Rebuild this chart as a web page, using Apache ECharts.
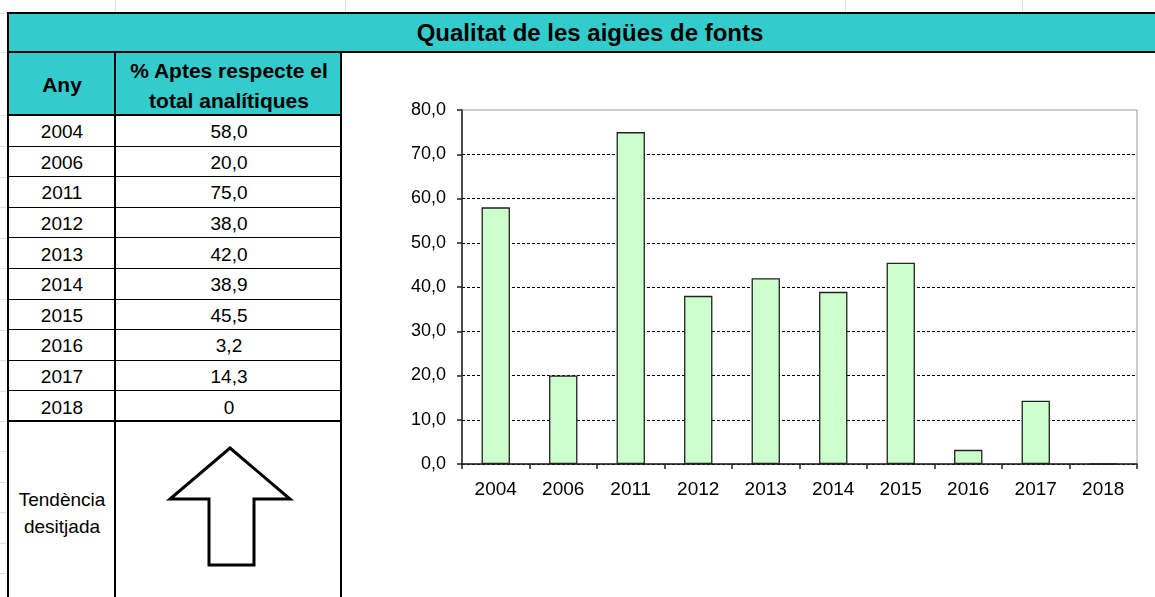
<!DOCTYPE html>
<html>
<head>
<meta charset="utf-8">
<script src="https://cdn.jsdelivr.net/npm/echarts@6/dist/echarts.min.js"></script>
<style>
body { margin: 0; width: 1155px; height: 597px; overflow: hidden; background: #fff; position: relative;
       font-family: Arial, "Liberation Sans", sans-serif; color: #000; }
.abs { position: absolute; box-sizing: border-box; }
.txt { position: absolute; display: flex; align-items: center; justify-content: center; text-align: center; font-size: 19px; }
.hd { font-weight: bold; font-size: 21px; line-height: 30px; }
.ln { position: absolute; background: #000; }
.faint { position: absolute; background: #dde1e6; }
#chart { position: absolute; left: 342px; top: 53px; width: 813px; height: 544px; }
</style>
</head>
<body>
<div id="sheet"></div>
<div id="chart"></div>
<script>
var TITLE = "Qualitat de les aigües de fonts";
var YEARS = ["2004", "2006", "2011", "2012", "2013", "2014", "2015", "2016", "2017", "2018"];
var APTES = [58.0, 20.0, 75.0, 38.0, 42.0, 38.9, 45.5, 3.2, 14.3, 0];
var Y_TICKS = [0, 10, 20, 30, 40, 50, 60, 70, 80];

function fmt(v) {
    if (v == 0) return "0";
    return v.toFixed(1).replace(".", ",");
}

function build_sheet() {
    var html = "";
    // faint spreadsheet gridlines outside the table
    var fx = [115, 345, 845, 1022];
    for (var i = 0; i < fx.length; i++) html += "<div class='faint' style='left:" + fx[i] + "px;top:0;width:1px;height:12px'></div>";
    var fy = [13, 52, 115, 146, 177, 207, 238, 268, 299, 330, 360, 391, 421, 451, 482, 512, 543, 573];
    for (i = 0; i < fy.length; i++) html += "<div class='faint' style='left:0;top:" + fy[i] + "px;width:7px;height:1px'></div>";

    // title band
    html += "<div class='abs' style='left:8px;top:13px;width:1150px;height:40px;background:#33CCCC'></div>";
    html += "<div class='txt' style='left:8px;top:13px;width:1164px;height:40px;font-weight:bold;font-size:24px'>" + TITLE + "</div>";
    // header
    html += "<div class='abs' style='left:8px;top:52px;width:334px;height:63px;background:#33CCCC'></div>";
    html += "<div class='txt hd' style='left:9px;top:53px;width:106px;height:63px'>Any</div>";
    html += "<div class='txt hd' style='left:116px;top:54px;width:226px;height:63px'>% Aptes respecte el<br>total analítiques</div>";

    // rows
    var top = 115, rh = 30.6;
    for (i = 0; i < YEARS.length; i++) {
        var y = top + i * rh;
        html += "<div class='txt' style='left:9px;top:" + (y + 2) + "px;width:106px;height:" + rh + "px'>" + YEARS[i] + "</div>";
        html += "<div class='txt' style='left:116px;top:" + (y + 2) + "px;width:226px;height:" + rh + "px'>" + fmt(APTES[i]) + "</div>";
        if (i > 0) html += "<div class='ln' style='left:8px;top:" + Math.round(y) + "px;width:334px;height:1px'></div>";
    }
    var yEnd = Math.round(top + YEARS.length * rh);
    html += "<div class='txt' style='left:9px;top:" + (yEnd + 64) + "px;width:106px;height:56px;line-height:27px'>Tendència<br>desitjada</div>";

    // heavy borders
    html += "<div class='ln' style='left:8px;top:12px;width:1150px;height:2px'></div>";
    html += "<div class='ln' style='left:8px;top:51px;width:1150px;height:2px'></div>";
    html += "<div class='ln' style='left:8px;top:114px;width:334px;height:2px'></div>";
    html += "<div class='ln' style='left:8px;top:" + (yEnd - 1) + "px;width:334px;height:2px'></div>";
    html += "<div class='ln' style='left:7px;top:12px;width:2px;height:600px'></div>";
    html += "<div class='ln' style='left:114px;top:52px;width:2px;height:600px'></div>";
    html += "<div class='ln' style='left:340px;top:52px;width:2px;height:600px'></div>";

    // arrow
    html += "<svg class='abs' style='left:0;top:0' width='400' height='597'>" +
        "<polygon points='230,448 290,499 254,499 254,565 209,565 209,499 170,499' fill='#fff' stroke='#000' stroke-width='3' stroke-linejoin='miter'/></svg>";
    document.getElementById("sheet").innerHTML = html;
}

build_sheet();

var chart = echarts.init(document.getElementById("chart"));
var splitColors = [];
for (var k = 0; k < Y_TICKS.length; k++) splitColors.push(k == Y_TICKS.length - 1 ? "transparent" : "#000");

chart.setOption({
    animation: false,
    grid: { left: 120, top: 57, right: 18, bottom: 133, show: true, borderColor: "#9a9a9a", borderWidth: 1 },
    xAxis: {
        type: "category",
        data: YEARS,
        axisLine: { lineStyle: { color: "#222", width: 1.5 } },
        axisTick: { show: true, length: 5, lineStyle: { color: "#222", width: 1.5 } },
        axisLabel: { color: "#000", fontSize: 19, margin: 16, fontFamily: "Arial, Liberation Sans" }
    },
    yAxis: {
        type: "value",
        min: Y_TICKS[0],
        max: Y_TICKS[Y_TICKS.length - 1],
        interval: 10,
        axisLine: { show: true, lineStyle: { color: "#222", width: 1.5 } },
        axisTick: { show: true, length: 5, lineStyle: { color: "#222", width: 1.5 } },
        axisLabel: {
            color: "#000", fontSize: 18, margin: 16, fontFamily: "Arial, Liberation Sans",
            formatter: function (v) { return v.toFixed(1).replace(".", ","); }
        },
        splitLine: { show: true, lineStyle: { color: splitColors, type: [3, 2], width: 1 } }
    },
    series: [{
        type: "bar",
        data: APTES,
        barWidth: "42%",
        itemStyle: { color: "#CCFFCC", borderColor: "#222", borderWidth: 1.3 }
    }]
});
</script>
</body>
</html>
